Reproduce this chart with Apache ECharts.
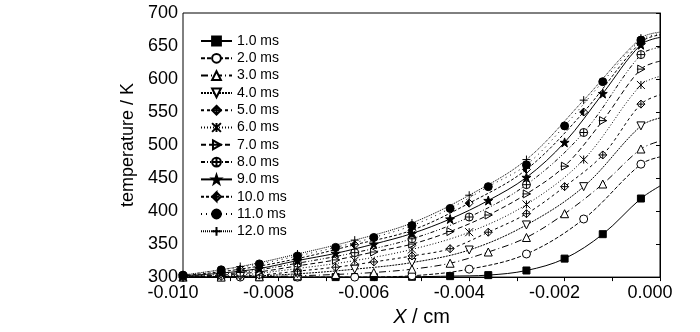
<!DOCTYPE html>
<html><head><meta charset="utf-8">
<script src="https://cdn.jsdelivr.net/npm/echarts@6/dist/echarts.min.js"></script>
<style>html,body{margin:0;padding:0;background:#fff}#c{width:700px;height:332px}</style>
</head><body><div id="c"></div>
<script>
// x positions (cm) of the points of each kind of series
const xFine = [-0.0100,-0.0092,-0.0084,-0.0076,-0.0068,-0.0060,-0.0052,-0.0044,-0.0036,-0.0028,-0.0020,-0.0012,-0.0004,0];
const xCoarse = [-0.0100,-0.0088,-0.0076,-0.0064,-0.0052,-0.0040,-0.0028,-0.0016,-0.0004,0];

const seriesNames = ['1.0 ms','2.0 ms','3.0 ms','4.0 ms','5.0 ms','6.0 ms','7.0 ms','8.0 ms','9.0 ms','10.0 ms','11.0 ms','12.0 ms'];

// temperatures (K)
const t1  = [300,300,300,300,300,300,300.5,301.5,303,310,328,365,419,438];
const t2  = [300,300,300,300,302,312,335,388,471,482];
const t3  = [300,300,300.5,302,304,307,312,321,338,360,396,441,494,506];
const t4  = [300,301,305,312,322,341,379,437,529,541];
const t5  = [300,301,303,309,315,323,332,343,368,396,437,485,562,576];
const t6  = [300,303,313,325,342,368,410,478,591,604];
const t7  = [301,303,308,317,326,338,350,369,394,426,468,537,615,627];
const t8  = [301,307,321,337,358,391,440,519,637,648];
const t9  = [302,306,313,325,336,350,366,388,416,451,504,578,652,663];
const t10 = [302,312,328,349,371,412,463,550,656,667];
const t11 = [303,311,320,332,345,360,378,404,437,470,529,596,659,669];
const t12 = [303,316,335,356,382,424,478,568,662,671];

const temps = [t1,t2,t3,t4,t5,t6,t7,t8,t9,t10,t11,t12];
const xsets = [xFine,xCoarse,xFine,xCoarse,xFine,xCoarse,xFine,xCoarse,xFine,xCoarse,xFine,xCoarse];

const xTickLabels = v => v.toFixed(3);

// styles
const STAR = 'path://M5,0L6.18,3.38L9.76,3.45L6.9,5.62L7.94,9.05L5,7L2.06,9.05L3.1,5.62L0.24,3.45L3.82,3.38Z';
const symbols = [
  'rect','circle','triangle','path://M0,0L10,0L5,10Z',
  'path://M5,0L10,5L5,10L0,5Z M5,0L5,10 M0,5L10,5',
  'path://M0,0L10,10 M10,0L0,10 M5,0L5,10',
  'path://M1,0L10,5L1,10Z M0,5L10,5',
  'path://M10,5A5,5,0,1,1,0,5A5,5,0,1,1,10,5Z M5,0L5,10 M0,5L10,5',
  STAR,
  'path://M5,0L0,5L5,10Z M5,0L10,5 M10,5L5,10',
  'circle',
  'path://M0,5L10,5 M5,0L5,10'
];
const fills = ['#000','#fff','#fff','#fff','#fff','#fff','#fff','#fff','#000','#000','#000','#fff'];
const sizes = [7,8,8,8,8,8,8,8,9,8,8,8];
const dashes = ['solid',[4,2],[7,3,1,3],[2,1],[3,3],[1,2],[5,3],[4,2,1,2,1,2],'solid',[3,2],[1,4],[1,1]];

const FONT = '"Liberation Sans",Arial,Helvetica,sans-serif';

const series = seriesNames.map((name,k) => ({
  name, type:'line',
  data: xsets[k].map((x,i) => i === xsets[k].length-1 ? {value:[x,temps[k][i]], symbol:'none'} : [x,temps[k][i]]),
  smooth: 0.35,
  symbol: symbols[k], symbolSize: sizes[k], showAllSymbol: true,
  lineStyle: {color:'#000', width:1, type: dashes[k]},
  itemStyle: {color: fills[k], borderColor:'#000', borderWidth:1, opacity:1},
  emphasis: {disabled:true},
  z: 2 + k
}));

const chart = echarts.init(document.getElementById('c'), null, {renderer:'canvas'});
chart.setOption({
  animation:false,
  backgroundColor:'#fff',
  grid:{left:183, right:40, top:13, bottom:45, show:true, borderColor:'#000', borderWidth:1, backgroundColor:'transparent'},
  legend:{
    data: seriesNames, orient:'vertical', left:195, top:29,
    itemWidth:31, itemHeight:11, itemGap:3.3,
    textStyle:{fontFamily:FONT, fontSize:14, color:'#000'},
    selectedMode:false
  },
  xAxis:{
    type:'value', min:-0.010, max:0, interval:0.002,
    name:'{i|X} / cm', nameLocation:'middle', nameGap:27,
    nameTextStyle:{fontFamily:FONT, fontSize:20, color:'#000', rich:{i:{fontStyle:'italic', fontFamily:FONT, fontSize:20, color:'#000'}}},
    axisLine:{lineStyle:{color:'#000', width:1}},
    axisTick:{inside:false, length:4, lineStyle:{color:'#000'}},
    minorTick:{show:true, splitNumber:2, length:4, lineStyle:{color:'#000'}},
    splitLine:{show:false},
    axisLabel:{formatter:xTickLabels, fontFamily:FONT, fontSize:18, color:'#000', margin:7, padding:[0,20,0,0]}
  },
  yAxis:{
    type:'value', min:300, max:700, interval:50,
    name:'temperature / K', nameLocation:'middle', nameGap:45,
    nameTextStyle:{fontFamily:FONT, fontSize:18, color:'#000'},
    axisLine:{show:true, lineStyle:{color:'#000', width:1}},
    axisTick:{show:true, inside:false, length:4, lineStyle:{color:'#000'}},
    splitLine:{show:false},
    axisLabel:{fontFamily:FONT, fontSize:18, color:'#000', margin:5}
  },
  series
});
</script></body></html>
